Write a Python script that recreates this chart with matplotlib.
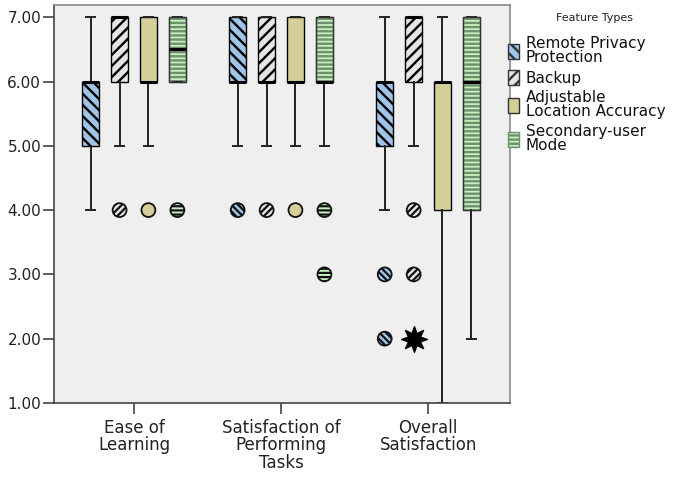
import matplotlib.pyplot as plt
from matplotlib.patches import Patch, PathPatch
import numpy as np

plt.rcParams['font.family'] = 'DejaVu Sans'
plt.rcParams['hatch.linewidth'] = 1.7

categories = ['Ease of\nLearning', 'Satisfaction of\nPerforming\nTasks', 'Overall\nSatisfaction']
features = ['Remote Privacy\nProtection', 'Backup', 'Adjustable\nLocation Accuracy', 'Secondary-user\nMode']

# box statistics per feature, one value per category
q1 = [[5, 6, 5], [6, 6, 6], [6, 6, 4], [6, 6, 4]]
med = [[6, 6, 6], [7, 6, 7], [6, 6, 6], [6.5, 6, 6]]
q3 = [[6, 7, 6], [7, 7, 7], [7, 7, 6], [7, 7, 7]]
whislo = [[4, 5, 4], [5, 5, 5], [5, 5, 1], [6, 5, 2]]
whishi = [[7, 7, 7], [7, 7, 7], [7, 7, 7], [7, 7, 7]]
outliers = [[[], [4], [3, 2]],
            [[4], [4], [4, 3]],
            [[4], [4], []],
            [[4], [4, 3], []]]
extremes = [[[], [], []],
            [[], [], [2]],
            [[], [], []],
            [[], [], []]]

colors = ['#9fc4e8', '#e4e4e4', '#d4cf98', '#c6f2bd']
hatches = ['\\\\\\', '///', '', '----']
dot_hatches = ['\\\\\\\\\\', '/////', '', '----']
hatch_cols = ['black', 'black', 'black', '#6f8f6f']
offsets = [-0.295, -0.098, 0.098, 0.295]

fig = plt.figure(figsize=(6.73, 4.78), dpi=100)
ax = fig.add_axes([0.0798, 0.157, 0.758 - 0.0798, 0.9895 - 0.157])
ax.set_facecolor('#efefef')

groups = np.arange(1, len(categories) + 1)
for k in range(len(features)):
    stats = []
    for i in range(len(categories)):
        stats.append(dict(q1=q1[k][i], med=med[k][i], q3=q3[k][i],
                          whislo=whislo[k][i], whishi=whishi[k][i], fliers=[]))
    pos = groups + offsets[k]
    bp = ax.bxp(stats, positions=pos, widths=0.116, capwidths=0.06,
                patch_artist=True, showfliers=False,
                boxprops=dict(facecolor=colors[k], edgecolor=hatch_cols[k], linewidth=1.0),
                medianprops=dict(color='black', linewidth=2.2),
                whiskerprops=dict(color='#222222', linewidth=1.4),
                capprops=dict(color='#222222', linewidth=1.4))
    for b in bp['boxes']:
        b.set_hatch(hatches[k])
        b.set_zorder(2)
        if hatch_cols[k] != 'black':
            ax.add_patch(PathPatch(b.get_path(), fill=False, edgecolor='#333333',
                                   linewidth=1.0, zorder=2.1))
    for m in bp['medians']:
        m.set_zorder(2.5)
    for i in range(len(categories)):
        ys = outliers[k][i]
        if ys:
            with plt.rc_context({'hatch.color': hatch_cols[k], 'hatch.linewidth': 1.6}):
                ax.scatter([pos[i]] * len(ys), ys, s=100, marker='o',
                           facecolor=colors[k], edgecolor='#111111',
                           linewidths=1.3, hatch=dot_hatches[k], zorder=3)
        ys = extremes[k][i]
        if ys:
            ax.scatter([pos[i]] * len(ys), ys, s=340, marker=(8, 1, 0),
                       color='black', zorder=3)

ax.set_xlim(0.454, 3.558)
ax.set_ylim(1, 7.19)
ax.set_xticks(groups)
ax.set_xticklabels(categories, fontsize=12, linespacing=0.95, color='#222222')
ax.set_yticks(np.arange(1, 8))
ax.set_yticklabels(['%.2f' % v for v in np.arange(1, 8)], fontsize=11, color='#222222')
ax.tick_params(axis='both', length=8, width=1.2, color='#444444', direction='out')
ax.tick_params(axis='y', pad=1)
for s in ['left', 'bottom']:
    ax.spines[s].set_color('#444444')
    ax.spines[s].set_linewidth(1.2)
for s in ['top', 'right']:
    ax.spines[s].set_color('#8a8a8a')
    ax.spines[s].set_linewidth(1.2)

fig.text(595 / 673, 1 - 18 / 478, 'Feature Types', fontsize=8, ha='center', va='center',
         color='#222222')
handles = [Patch(facecolor=colors[k], edgecolor=hatch_cols[k] if k == 3 else '#333333',
                 hatch=hatches[k], label=features[k]) for k in range(len(features))]
leg = fig.legend(handles=handles, loc='upper left', bbox_to_anchor=(0.755, 0.924),
                 frameon=False, fontsize=11, handlelength=0.72, handleheight=1.15,
                 handletextpad=0.45, labelspacing=0.3, borderpad=0,
                 borderaxespad=0)
for t in leg.get_texts():
    t.set_linespacing(0.92)
    t.set_color('#111111')

fig.savefig('out.png', dpi=100)
